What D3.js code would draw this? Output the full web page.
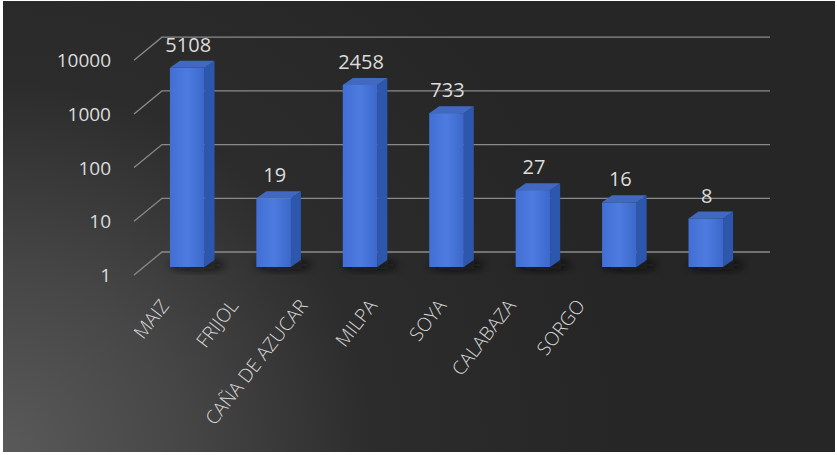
<!DOCTYPE html>
<html>
<head>
<meta charset="utf-8">
<script src="https://cdn.jsdelivr.net/npm/d3@7"></script>
<style>
  body { margin: 0; background: #fff; }
  svg { display: block; }
</style>
</head>
<body>
<svg id="chart" width="837" height="455"></svg>
<script>
// datos
var cultivos = ["MAIZ", "FRIJOL", "CAÑA DE AZUCAR", "MILPA", "SOYA", "CALABAZA", "SORGO"];
var valores = [5108, 19, 2458, 733, 27, 16, 8];
var ticks = [1, 10, 100, 1000, 10000];

var width = 837, height = 455;
var depthX = 10, depthY = -7;      // profundidad de la barra
var backDX = 28, backDY = -23;     // plano de fondo

var svg = d3.select("#chart");
var defs = svg.append("defs");

var bg = defs.append("radialGradient").attr("id", "bg")
  .attr("gradientUnits", "userSpaceOnUse")
  .attr("cx", 0).attr("cy", 455).attr("r", 620);
bg.append("stop").attr("offset", 0).attr("stop-color", "#5a5a5a");
bg.append("stop").attr("offset", 0.3).attr("stop-color", "#464646");
bg.append("stop").attr("offset", 0.6).attr("stop-color", "#2c2c2c");
bg.append("stop").attr("offset", 1).attr("stop-color", "#262626");

var front = defs.append("linearGradient").attr("id", "front")
  .attr("x1", 0).attr("x2", 1).attr("y1", 0).attr("y2", 0);
front.append("stop").attr("offset", 0).attr("stop-color", "#416fd4");
front.append("stop").attr("offset", 0.5).attr("stop-color", "#4d7bdf");
front.append("stop").attr("offset", 1).attr("stop-color", "#3c68cb");

var shadow = defs.append("filter").attr("id", "blur")
  .attr("x", "-50%").attr("y", "-50%").attr("width", "200%").attr("height", "200%");
shadow.append("feGaussianBlur").attr("stdDeviation", 4);

svg.append("rect")
  .attr("x", 3).attr("y", 1).attr("width", 832).attr("height", 451)
  .attr("fill", "url(#bg)");

var x = d3.scaleBand()
  .domain(cultivos)
  .range([144, 749])
  .paddingInner(0.6)
  .paddingOuter(0.3);

// barra (frente)
var y = d3.scaleLog()
  .domain([1, 10000])
  .range([267, 52.2]);

// posiciones de las etiquetas del eje x
var xl = d3.scalePoint()
  .domain(cultivos)
  .range([170, 586]);

// rejilla
var grid = svg.append("g");
ticks.forEach(function(t) {
  var yb = y(t) - 15;
  grid.append("path")
    .attr("d", "M134," + (yb - backDY) + "L" + (134 + backDX) + "," + yb + "H770")
    .attr("fill", "none")
    .attr("stroke", "#8a8a8a")
    .attr("stroke-width", 1.3);
  grid.append("text")
    .attr("x", 111).attr("y", yb - backDY + 2)
    .attr("text-anchor", "end")
    .attr("dominant-baseline", "middle")
    .style("font", "19px 'Open Sans', sans-serif")
    .style("fill", "#dcdcdc")
    .text(t);
});

var bars = svg.selectAll(".bar")
  .data(cultivos)
  .enter().append("g")
  .attr("class", "bar");

bars.append("ellipse")
  .attr("cx", function(d) { return x(d) + x.bandwidth() / 2 + 10; })
  .attr("cy", y(1) - 2)
  .attr("rx", x.bandwidth() * 0.8)
  .attr("ry", 5)
  .attr("fill", "#0a0a0a")
  .attr("opacity", 0.8)
  .attr("filter", "url(#blur)");

// lado
bars.append("path")
  .attr("d", function(d, i) {
    var x1 = x(d) + x.bandwidth(), t = y(valores[i]), b = y(1);
    return "M" + x1 + "," + t + "L" + (x1 + depthX) + "," + (t + depthY) +
      "L" + (x1 + depthX) + "," + (b + depthY) + "L" + x1 + "," + b + "Z";
  })
  .attr("fill", "#2d56ad");

// tapa
bars.append("path")
  .attr("d", function(d, i) {
    var x0 = x(d), x1 = x0 + x.bandwidth(), t = y(valores[i]);
    return "M" + x0 + "," + t + "L" + (x0 + depthX) + "," + (t + depthY) +
      "L" + (x1 + depthX) + "," + (t + depthY) + "L" + x1 + "," + t + "Z";
  })
  .attr("fill", "#4169c2");

// frente
bars.append("rect")
  .attr("x", function(d) { return x(d); })
  .attr("y", function(d, i) { return y(valores[i]); })
  .attr("width", x.bandwidth())
  .attr("height", function(d, i) { return y(1) - y(valores[i]); })
  .attr("fill", "url(#front)");

bars.append("text")
  .attr("x", function(d) { return x(d) + x.bandwidth() / 2 + 1; })
  .attr("y", function(d, i) { return y(valores[i]) - 16; })
  .attr("text-anchor", "middle")
  .style("font", "20px 'Open Sans', sans-serif")
  .style("fill", "#dcdcdc")
  .text(function(d, i) { return valores[i]; });

// etiquetas eje x
svg.append("g").selectAll("text")
  .data(cultivos)
  .enter().append("text")
  .attr("transform", function(d) { return "translate(" + xl(d) + ",306) rotate(-52)"; })
  .attr("text-anchor", "end")
  .style("font-family", "'Open Sans', sans-serif")
  .style("font-size", "19px")
  .style("font-weight", 300)
  .style("fill", "#d8d8d8")
  .text(function(d) { return d; });
</script>
</body>
</html>
